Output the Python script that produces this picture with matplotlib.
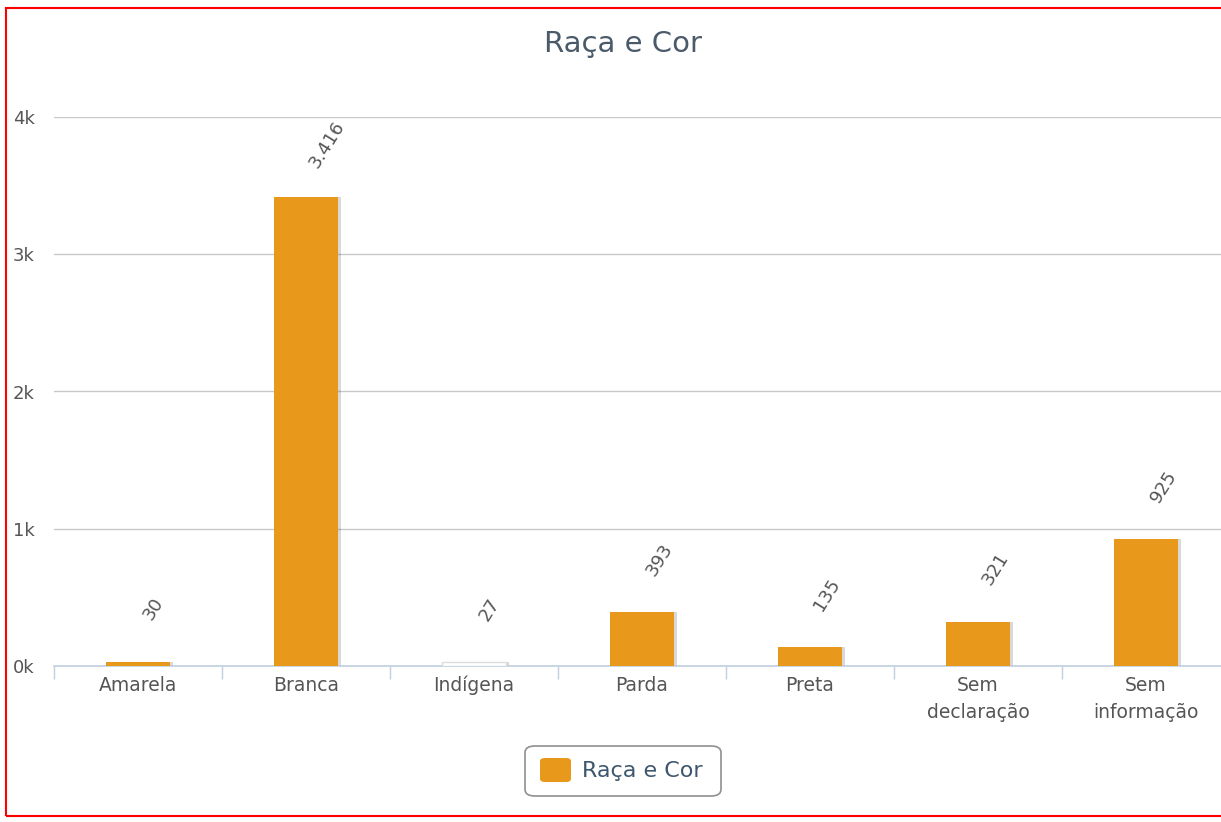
import matplotlib.pyplot as plt
from matplotlib.patches import Rectangle, FancyBboxPatch
import numpy as np

# data
categories = ['Amarela', 'Branca', 'Indígena', 'Parda', 'Preta', 'Sem\ndeclaração', 'Sem\ninformação']
values = [30, 3416, 27, 393, 135, 321, 925]
value_labels = ['30', '3.416', '27', '393', '135', '321', '925']
bar_colors = ['#E8981A', '#E8981A', '#FFFFFF', '#E8981A', '#E8981A', '#E8981A', '#E8981A']
y_ticks = [0, 1000, 2000, 3000, 4000]
series_name = 'Raça e Cor'

W, H = 1221, 822
fig = plt.figure(figsize=(W / 100, H / 100), dpi=100)
# plot area runs a little past the right edge, like the cropped original
ax = fig.add_axes([54 / W, (H - 666) / H, 1176 / W, (666 - 117) / H])

x = np.arange(len(categories))
# soft shadow behind the bars
ax.bar(x + 0.02, values, width=0.38, color='#000000', alpha=0.15, zorder=2)
ax.bar(x, values, width=0.38, color=bar_colors,
       edgecolor=['none' if c != '#FFFFFF' else '#DDDDDD' for c in bar_colors],
       linewidth=1, zorder=3)

for xi, v, lab in zip(x, values, value_labels):
    ax.annotate(lab, (xi, v), xytext=(8 + 1.5 * len(lab), 38), textcoords='offset points',
                rotation=58, ha='center', va='center', fontsize=13, color='#555555')

ax.set_xlim(-0.5, len(categories) - 0.5)
ax.set_ylim(0, 4000)
ax.set_yticks(y_ticks)
ax.set_yticklabels(['%dk' % (t // 1000) for t in y_ticks])
ax.yaxis.grid(True, color='#C8C8C8', linewidth=1)
ax.set_axisbelow(True)

ax.set_xticks(x)
ax.set_xticklabels(categories, fontsize=13.5, color='#555555', linespacing=1.55)
ax.set_xticks(np.arange(len(categories) + 1) - 0.5, minor=True)
ax.tick_params(axis='x', which='major', length=0, pad=7)
ax.tick_params(axis='x', which='minor', length=9, color='#C0D0E0', width=1)
ax.tick_params(axis='y', length=0, pad=14, labelsize=13, labelcolor='#555555')

for s in ['top', 'right', 'left']:
    ax.spines[s].set_visible(False)
ax.spines['bottom'].set_color('#C0D0E0')
ax.spines['bottom'].set_linewidth(1.2)

fig.text(623 / W, 1 - 44 / H, 'Raça e Cor', ha='center', va='center', fontsize=21, color='#4A5A6A')

# legend box
fig.patches.append(FancyBboxPatch((525 / W, 1 - 796 / H), 196 / W, 50 / H,
                                  boxstyle='round,pad=0,rounding_size=0.008', transform=fig.transFigure,
                                  facecolor='white', edgecolor='#909090', linewidth=1.2))
fig.patches.append(FancyBboxPatch((540 / W, 1 - 782 / H), 31 / W, 24 / H,
                                  boxstyle='round,pad=0,rounding_size=0.004', transform=fig.transFigure,
                                  facecolor='#E8981A', edgecolor='none'))
fig.text(582 / W, 1 - 771 / H, series_name, ha='left', va='center', fontsize=16, color='#3E576F')

# red frame
fig.patches.append(Rectangle((6 / W, 1 - 816 / H), 1.1, 808 / H, transform=fig.transFigure,
                             fill=False, edgecolor='red', linewidth=1.5, clip_on=False))

plt.savefig('out.png', dpi=100)
